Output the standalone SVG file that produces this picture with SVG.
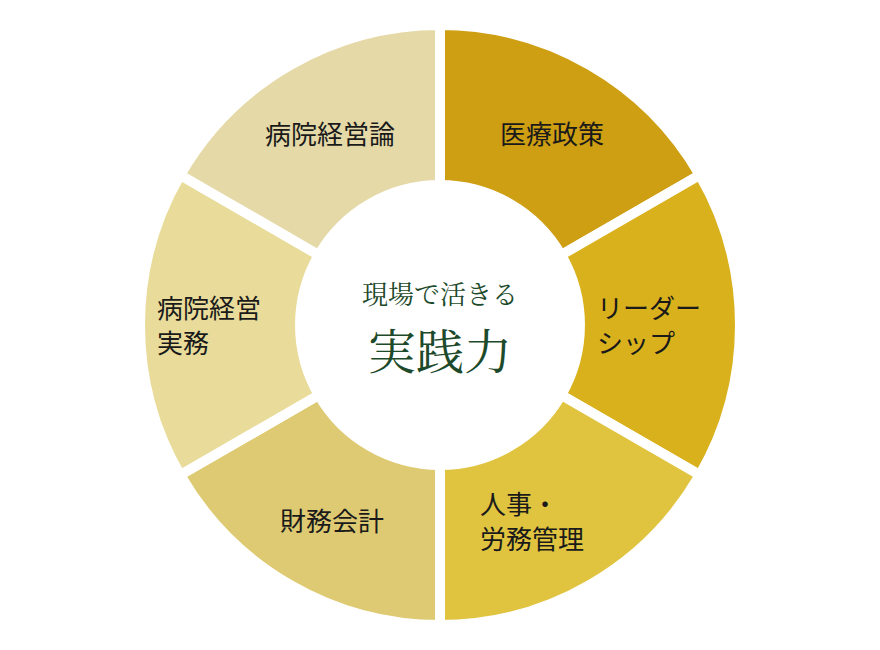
<svg xmlns="http://www.w3.org/2000/svg" width="880" height="650" viewBox="0 0 880 650">
<style>
.seg{stroke:#fff;stroke-width:10;stroke-linejoin:miter}
.lbl{font-family:"Noto Sans CJK JP","Noto Sans",sans-serif;font-size:26px;fill:#1a1a1a}
.ctr{font-family:"Noto Serif CJK JP","Noto Sans CJK JP",serif;fill:#1d4a2a}
</style>
<rect width="880" height="650" fill="#fff"/>
<g id="seg-iryo"><path class="seg" fill="#CE9E13" d="M440,25 A300,300 0 0 1 699.8,175 L561.2,255 A140,140 0 0 0 440,185 Z"/><text class="lbl" x="552" y="144" text-anchor="middle">医療政策</text></g>
<g id="seg-leader"><path class="seg" fill="#D9B11D" d="M699.8,175 A300,300 0 0 1 699.8,475 L561.2,395 A140,140 0 0 0 561.2,255 Z"/><text class="lbl" x="597" y="318">リーダー</text><text class="lbl" x="597" y="353">シップ</text></g>
<g id="seg-jinji"><path class="seg" fill="#E0C440" d="M699.8,475 A300,300 0 0 1 440,625 L440,465 A140,140 0 0 0 561.2,395 Z"/><text class="lbl" x="480" y="514">人事・</text><text class="lbl" x="480" y="549">労務管理</text></g>
<g id="seg-zaimu"><path class="seg" fill="#DECA72" d="M440,625 A300,300 0 0 1 180.2,475 L318.8,395 A140,140 0 0 0 440,465 Z"/><text class="lbl" x="332" y="531" text-anchor="middle">財務会計</text></g>
<g id="seg-jitsumu"><path class="seg" fill="#E9DC9A" d="M180.2,475 A300,300 0 0 1 180.2,175 L318.8,255 A140,140 0 0 0 318.8,395 Z"/><text class="lbl" x="157" y="318">病院経営</text><text class="lbl" x="157" y="353">実務</text></g>
<g id="seg-ron"><path class="seg" fill="#E5D9A8" d="M180.2,175 A300,300 0 0 1 440,25 L440,185 A140,140 0 0 0 318.8,255 Z"/><text class="lbl" x="330" y="144" text-anchor="middle">病院経営論</text></g>
<g id="center"><circle cx="440" cy="325" r="135" fill="#fff"/><text class="ctr" x="440" y="304" text-anchor="middle" font-size="26">現場で活きる</text><text class="ctr" x="440" y="369" text-anchor="middle" font-size="48">実践力</text></g>
<g id="connectors"/>
</svg>
